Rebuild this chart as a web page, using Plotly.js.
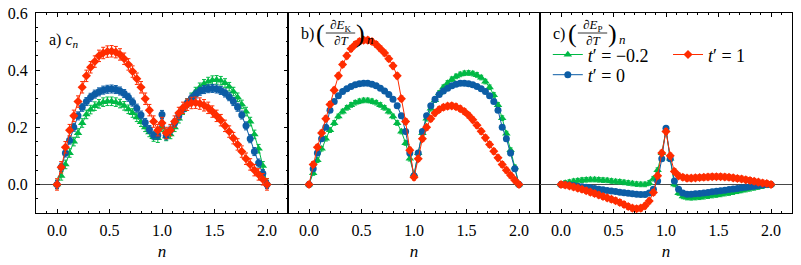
<!DOCTYPE html>
<html><head><meta charset="utf-8">
<script src="https://cdn.plot.ly/plotly-3.0.1.min.js"></script>
<style>
html,body{margin:0;padding:0;background:#fff;font-family:'Liberation Serif'}
#chart{width:801px;height:265px}
#chart svg text{font-family:'Liberation Serif', serif !important}
</style>
</head><body><div id="chart"></div>
<script>
// density grid n
const n = [0.00,0.04,0.08,0.12,0.16,0.20,0.24,0.28,0.32,0.36,0.40,0.44,0.48,0.52,0.56,0.60,0.64,0.68,0.72,0.76,0.80,0.84,0.88,0.92,0.96,1.00,1.04,1.08,1.12,1.16,1.20,1.24,1.28,1.32,1.36,1.40,1.44,1.48,1.52,1.56,1.60,1.64,1.68,1.72,1.76,1.80,1.84,1.88,1.92,1.96,2.00];

// a) c_n
const cnG = [0.0,0.03,0.07,0.11,0.15,0.18,0.215,0.245,0.262,0.274,0.282,0.288,0.291,0.291,0.288,0.283,0.275,0.263,0.25,0.235,0.218,0.2,0.182,0.166,0.162,0.2,0.168,0.175,0.2,0.23,0.26,0.285,0.305,0.325,0.34,0.352,0.36,0.365,0.366,0.363,0.355,0.342,0.325,0.305,0.28,0.255,0.22,0.175,0.125,0.065,0.005];
const cnB = [0.0,0.06,0.11,0.155,0.2,0.24,0.27,0.29,0.305,0.316,0.324,0.33,0.333,0.334,0.332,0.327,0.318,0.305,0.288,0.267,0.243,0.217,0.192,0.172,0.172,0.245,0.17,0.19,0.215,0.24,0.263,0.285,0.302,0.316,0.326,0.332,0.335,0.336,0.334,0.329,0.32,0.307,0.29,0.27,0.243,0.205,0.16,0.115,0.075,0.038,0.0];
const cnR = [0.0,0.06,0.13,0.19,0.24,0.29,0.34,0.38,0.41,0.43,0.45,0.46,0.465,0.466,0.463,0.455,0.44,0.42,0.395,0.37,0.34,0.3,0.26,0.22,0.19,0.215,0.18,0.19,0.22,0.25,0.268,0.279,0.285,0.286,0.283,0.277,0.268,0.255,0.24,0.225,0.205,0.185,0.162,0.14,0.115,0.09,0.07,0.05,0.035,0.018,0.0];

// b) (dE_K/dT)_n
const ekG = [0.0,0.04,0.085,0.125,0.16,0.19,0.215,0.238,0.255,0.268,0.278,0.286,0.291,0.294,0.294,0.291,0.286,0.278,0.268,0.255,0.238,0.215,0.185,0.145,0.09,0.035,0.11,0.18,0.23,0.265,0.295,0.32,0.34,0.355,0.368,0.378,0.385,0.389,0.39,0.388,0.383,0.374,0.36,0.34,0.313,0.278,0.232,0.178,0.12,0.06,0.0];
const ekB = [0.0,0.055,0.11,0.16,0.2,0.26,0.29,0.31,0.325,0.335,0.343,0.349,0.352,0.354,0.354,0.351,0.345,0.337,0.327,0.315,0.298,0.275,0.24,0.185,0.11,0.03,0.11,0.185,0.24,0.275,0.298,0.315,0.327,0.337,0.345,0.351,0.354,0.354,0.352,0.349,0.343,0.335,0.325,0.31,0.29,0.26,0.2,0.16,0.11,0.055,0.0];
const ekR = [0.0,0.07,0.13,0.18,0.23,0.28,0.33,0.38,0.42,0.45,0.475,0.49,0.5,0.505,0.505,0.5,0.49,0.475,0.46,0.44,0.415,0.38,0.3,0.22,0.12,0.025,0.09,0.16,0.2,0.23,0.25,0.262,0.27,0.274,0.275,0.272,0.265,0.255,0.242,0.226,0.207,0.186,0.163,0.14,0.116,0.093,0.07,0.05,0.032,0.015,0.0];

// c) (dE_P/dT)_n
const epG = [0.0,0.005,0.008,0.011,0.013,0.015,0.016,0.017,0.017,0.016,0.015,0.014,0.012,0.01,0.009,0.007,0.005,0.003,0.001,0.0,0.0,0.005,0.02,0.05,0.11,0.19,0.09,0.0,-0.03,-0.042,-0.046,-0.047,-0.046,-0.045,-0.043,-0.041,-0.039,-0.037,-0.035,-0.032,-0.03,-0.027,-0.024,-0.021,-0.018,-0.015,-0.012,-0.009,-0.006,-0.003,0.0];
const epB = [0.0,0.0,-0.002,-0.004,-0.006,-0.008,-0.01,-0.012,-0.014,-0.017,-0.019,-0.021,-0.023,-0.025,-0.027,-0.029,-0.031,-0.033,-0.034,-0.035,-0.035,-0.03,-0.017,0.012,0.09,0.197,0.09,0.012,-0.017,-0.03,-0.034,-0.034,-0.033,-0.032,-0.03,-0.028,-0.026,-0.024,-0.022,-0.02,-0.018,-0.016,-0.014,-0.012,-0.01,-0.008,-0.006,-0.004,-0.002,0.0,0.0];
const epR = [0.0,-0.002,-0.005,-0.009,-0.013,-0.017,-0.022,-0.027,-0.032,-0.037,-0.042,-0.047,-0.052,-0.057,-0.063,-0.07,-0.077,-0.083,-0.085,-0.083,-0.075,-0.058,-0.028,0.03,0.11,0.185,0.1,0.045,0.03,0.025,0.022,0.022,0.023,0.024,0.025,0.026,0.027,0.027,0.027,0.026,0.025,0.023,0.021,0.019,0.016,0.014,0.011,0.008,0.005,0.003,0.0];

// error bars (per series: t'=-0.2, t'=0, t'=1)
const errCn = [0.015, 0.014, 0.02];
const errEk = [0.008, 0.007, 0.01];
const errEp = [0.008, 0.006, 0.01];

const seriesNames = ['<i>t</i>′ = −0.2', '<i>t</i>′ = 0', '<i>t</i>′ = 1'];
const xTickVals = [0, 0.5, 1, 1.5, 2];
const xTickText = ['0.0', '0.5', '1.0', '1.5', '2.0'];
const yTickVals = [0, 0.2, 0.4, 0.6];
const yTickText = ['0.0', '0.2', '0.4', '0.6'];

const colors = ['#00B945', '#0C5DA5', '#FF2C00'];
const symbols = ['triangle-up', 'circle', 'diamond'];
const sizes = [7.5, 7, 7];
const FONT = 'Liberation Serif';
const legendIds = ['legend', 'legend2', 'legend3'];

const panels = [
  {ys: [cnG, cnB, cnR], err: errCn, xa: 'x', ya: 'y'},
  {ys: [ekG, ekB, ekR], err: errEk, xa: 'x2', ya: 'y2'},
  {ys: [epG, epB, epR], err: errEp, xa: 'x3', ya: 'y3'}
];

const traces = [];
panels.forEach((p, pi) => {
  [0, 1, 2].forEach(s => {
    traces.push({
      type: 'scatter', mode: 'lines+markers',
      x: n, y: p.ys[s], xaxis: p.xa, yaxis: p.ya,
      name: seriesNames[s],
      showlegend: pi === 2,
      legend: legendIds[s],
      line: {color: colors[s], width: 1},
      marker: {color: colors[s], symbol: symbols[s], size: sizes[s], line: {width: 0}},
      error_y: {type: 'constant', value: p.err[s], color: colors[s], thickness: 1, width: 2}
    });
  });
});

function xaxis(anchor, dom) {
  return {
    domain: dom, anchor: anchor, range: [-0.2, 2.2],
    showline: true, linecolor: '#000', linewidth: 1, mirror: 'allticks',
    ticks: 'inside', ticklen: 4, tickwidth: 1, tickcolor: '#000',
    tickmode: 'array', tickvals: xTickVals, ticktext: xTickText,
    minor: {tickmode: 'linear', tick0: 0, dtick: 0.1, ticks: 'inside', ticklen: 2, tickcolor: '#000', showgrid: false},
    showgrid: false, zeroline: false,
    tickfont: {family: FONT, size: 16, color: '#000'},
    ticklabelstandoff: 3,
    title: {text: '<i>n</i>', font: {family: FONT, size: 17, color: '#000'}, standoff: 6}
  };
}
function yaxis(anchor, labels) {
  const a = {
    domain: [0, 1], anchor: anchor, range: [-0.1, 0.6],
    showline: true, linecolor: '#000', linewidth: 1, mirror: labels ? 'allticks' : true,
    showgrid: false, zeroline: true, zerolinecolor: '#474747', zerolinewidth: 1,
    tickfont: {family: FONT, size: 16, color: '#000'}
  };
  if (labels) {
    Object.assign(a, {
      ticks: 'inside', ticklen: 4, tickwidth: 1, tickcolor: '#000',
      tickmode: 'array', tickvals: yTickVals, ticktext: yTickText,
      minor: {tickmode: 'linear', tick0: 0, dtick: 0.05, ticks: 'inside', ticklen: 2, tickcolor: '#000', showgrid: false},
      ticklabelstandoff: 4
    });
  } else {
    Object.assign(a, {ticks: '', showticklabels: false, matches: 'y'});
  }
  return a;
}

function ann(xref, yref, x, y, text, size, xanchor) {
  return {xref: xref, yref: yref, x: x, y: y, text: text, showarrow: false,
          xanchor: xanchor || 'center', yanchor: 'middle',
          font: {family: FONT, size: size, color: '#000'}};
}
const annotations = [
  ann('x', 'y', -0.095, 0.505, 'a) <i>c</i><sub><i>n</i></sub>', 16, 'left'),
];
const shapes = [];
[['x2', 'y2', 'b)', 'K'], ['x3', 'y3', 'c)', 'P']].forEach(([xr, yr, lab, sub]) => {
  annotations.push(ann(xr, yr, -0.095, 0.528, lab, 16, 'left'));
  annotations.push(ann(xr, yr, 0.11, 0.53, '(', 26));
  annotations.push(ann(xr, yr, 0.3, 0.555, '∂<i>E</i><sub>' + sub + '</sub>', 13));
  annotations.push(ann(xr, yr, 0.305, 0.505, '∂<i>T</i>', 13));
  annotations.push(ann(xr, yr, 0.49, 0.53, ')', 26));
  annotations.push(ann(xr, yr, 0.59, 0.506, '<i>n</i>', 13));
  shapes.push({type: 'line', xref: xr, yref: yr, x0: 0.16, x1: 0.44, y0: 0.53, y1: 0.53, line: {color: '#000', width: 0.8}});
});

const legFont = {family: FONT, size: 18, color: '#000'};
function leg(x, y) {
  return {orientation: 'v', x: x, y: y, xanchor: 'left', yanchor: 'middle',
          bgcolor: 'rgba(0,0,0,0)', font: legFont, itemwidth: 30, borderwidth: 0};
}
const layout = {
  width: 801, height: 265,
  margin: {l: 36, r: 9, t: 13, b: 52},
  paper_bgcolor: '#fff', plot_bgcolor: 'rgba(0,0,0,0)',
  font: {family: FONT, color: '#000'},
  xaxis: xaxis('y', [0, 1/3]),
  xaxis2: xaxis('y2', [1/3, 2/3]),
  xaxis3: xaxis('y3', [2/3, 1]),
  yaxis: yaxis('x', true),
  yaxis2: yaxis('x2', false),
  yaxis3: yaxis('x3', false),
  legend: leg(0.677, 0.791),
  legend2: leg(0.677, 0.69),
  legend3: leg(0.836, 0.791),
  annotations: annotations,
  shapes: shapes,
  showlegend: true
};

Plotly.newPlot('chart', traces, layout, {staticPlot: true, displayModeBar: false});
</script>
</body></html>
